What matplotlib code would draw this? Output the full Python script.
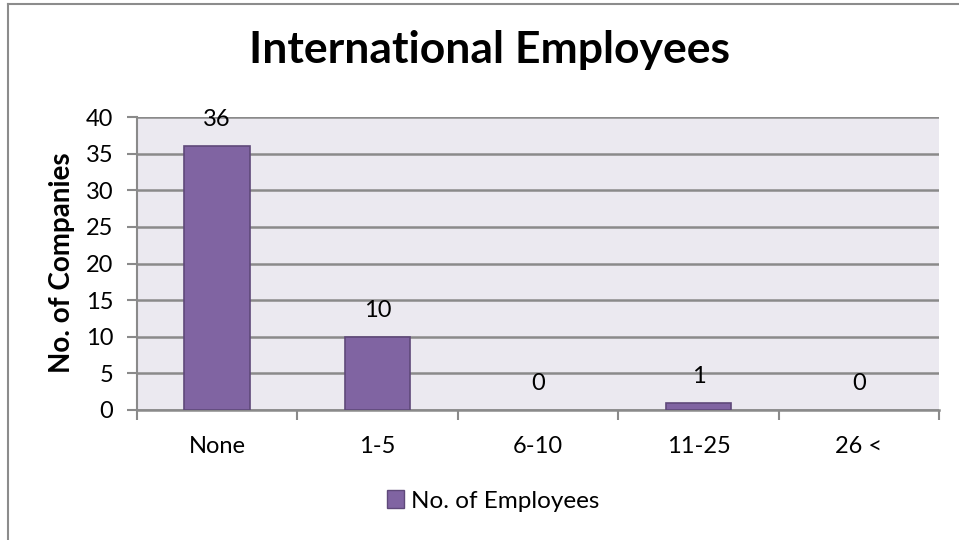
import matplotlib
matplotlib.use("Agg")
import matplotlib.pyplot as plt
from matplotlib.lines import Line2D
from matplotlib.patches import Patch

categories = ["None", "1-5", "6-10", "11-25", "26 <"]
values = [36, 10, 0, 1, 0]
series_name = "No. of Employees"
title = "International Employees"
ylabel = "No. of Companies"
yticks = [0, 5, 10, 15, 20, 25, 30, 35, 40]

plt.rcParams['font.family'] = ['Lato', 'DejaVu Sans']

W, H = 959, 540
fig = plt.figure(figsize=(W / 100, H / 100), dpi=100)
fig.patch.set_facecolor("white")

# outer chart border (left and top visible)
fig.add_artist(Line2D([8 / W, 8 / W], [0, 1 - 4 / H], transform=fig.transFigure, color="#8c8c8c", lw=1.5))
fig.add_artist(Line2D([8 / W, 1], [1 - 4 / H, 1 - 4 / H], transform=fig.transFigure, color="#8c8c8c", lw=1.5))

left, right, top, bottom = 137, 939, 117, 410
ax = fig.add_axes([left / W, 1 - bottom / H, (right - left) / W, (bottom - top) / H])
ax.set_facecolor("#EBE9F0")

x = list(range(len(categories)))
bars = ax.bar(x, values, width=0.41, color="#8064A2", edgecolor="#5F497A", linewidth=1.2, zorder=3)
for b, v in zip(bars, values):
    if v == 0:
        b.set_linewidth(0)

ax.set_xlim(-0.5, len(categories) - 0.5)
ax.set_ylim(0, 40)
ax.set_yticks(yticks)
ax.set_yticklabels([str(v) for v in yticks], fontsize=17)
ax.yaxis.grid(True, color="#8a8a8a", lw=1.8, zorder=1)
ax.set_axisbelow(True)

# category ticks on boundaries
ax.set_xticks([i - 0.5 for i in range(len(categories) + 1)])
ax.set_xticklabels([])
ax.set_xticks(x, minor=True)
ax.set_xticklabels(categories, minor=True, fontsize=17)
ax.tick_params(axis="x", which="minor", length=0, pad=19)
ax.tick_params(axis="x", which="major", length=7, width=1.5, color="#8a8a8a")
ax.tick_params(axis="y", length=7, width=1.5, color="#8a8a8a", pad=10)

for s in ["top", "right"]:
    ax.spines[s].set_visible(False)
ax.spines["left"].set_color("#8a8a8a")
ax.spines["left"].set_linewidth(1.5)
ax.spines["bottom"].set_color("#8a8a8a")
ax.spines["bottom"].set_linewidth(1.8)

for xi, v in zip(x, values):
    ax.annotate(str(v), (xi, v), xytext=(0, 14.5), textcoords="offset points",
                ha="center", va="baseline", fontsize=17)

fig.text(489 / W, 1 - 50 / H, title, ha="center", va="center", fontsize=32, fontweight="bold")
fig.text(62 / W, 1 - 263 / H, ylabel, ha="center", va="center", rotation=90, fontsize=20, fontweight="bold")

handle = Patch(facecolor="#8064A2", edgecolor="#5F497A", linewidth=1.0)
fig.legend([handle], [series_name], loc="center", bbox_to_anchor=(493 / W, 1 - 501 / H),
           frameon=False, fontsize=17.5, handlelength=0.7, handleheight=0.7, handletextpad=0.3)

fig.savefig("out.png", dpi=100)
